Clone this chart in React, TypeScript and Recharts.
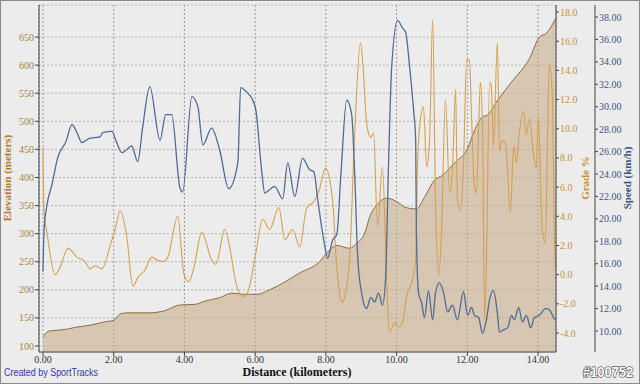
import { ComposedChart, Area, Line, XAxis, YAxis, CartesianGrid } from 'recharts'

const W = 640
const H = 384

// elevation profile (km, meters)
const elevDist = [0, 0.1, 0.2, 0.4, 0.68, 0.9, 1.33, 1.75, 2.01, 2.18, 2.37, 3.02, 3.45, 3.87, 4.29, 4.58, 5.0, 5.34, 5.7, 6.05, 6.41, 6.84, 7.26, 7.82, 8.02, 8.31, 8.67, 8.87, 9.1, 9.24, 9.44, 9.72, 10.08, 10.23, 10.56, 10.79, 11.07, 11.3, 11.64, 12.01, 12.2, 12.43, 12.57, 12.82, 13.25, 13.76, 14.04, 14.24, 14.49]
const elevM = [116, 124, 127, 128, 130, 133, 137, 143, 146, 157, 159, 159, 163, 173, 174, 180, 186, 194, 192, 192, 200, 214, 230, 250, 265, 279, 274, 283, 301, 330, 351, 363, 354, 347, 344, 365, 395, 404, 426, 452, 483, 508, 511, 534, 570, 612, 650, 657, 682]

// grade (km, %)
const gradeDist = [0, 0.03, 0.11, 0.34, 0.48, 0.71, 0.96, 1.19, 1.33, 1.47, 1.67, 1.89, 2.06, 2.18, 2.37, 2.54, 2.68, 2.88, 3.08, 3.22, 3.39, 3.53, 3.81, 3.98, 4.12, 4.27, 4.49, 4.77, 4.89, 5.14, 5.28, 5.45, 5.65, 5.79, 6.02, 6.21, 6.41, 6.67, 6.84, 7.06, 7.26, 7.46, 7.66, 7.8, 7.99, 8.19, 8.28, 8.36, 8.47, 8.56, 8.67, 8.81, 8.98, 9.07, 9.15, 9.27, 9.35, 9.46, 9.6, 9.72, 9.8, 9.94, 10.06, 10.17, 10.31, 10.42, 10.54, 10.59, 10.65, 10.76, 10.85, 10.93, 11.02, 11.1, 11.19, 11.27, 11.38, 11.5, 11.58, 11.67, 11.72, 11.81, 11.89, 11.98, 12.06, 12.12, 12.2, 12.26, 12.32, 12.37, 12.43, 12.49, 12.54, 12.63, 12.68, 12.74, 12.85, 12.91, 12.99, 13.08, 13.22, 13.31, 13.39, 13.47, 13.59, 13.67, 13.76, 13.87, 13.95, 14.01, 14.12, 14.21, 14.27, 14.32, 14.41, 14.46, 14.49]
const gradePct = [8.7, 4.2, 2.9, 0.0, 0.5, 1.8, 1.2, 0.9, 0.4, 0.6, 0.4, 1.9, 3.3, 4.4, 2.6, -0.8, -0.2, 0.3, 1.2, 1.0, 0.9, 1.2, 4.0, 0.1, -0.5, 0.5, 2.9, 1.0, 0.7, 3.1, 1.9, -0.5, -1.5, -1.2, 1.5, 3.8, 3.1, 4.6, 2.4, 3.1, 1.9, 4.6, 5.0, 5.7, 7.3, 5.1, 1.5, -0.8, -1.9, -1.2, 1.0, 9.4, 15.9, 13.6, 10.4, 9.4, 9.7, 3.3, 7.4, -0.4, -4.0, -3.3, -3.6, -3.2, -1.2, -0.6, 1.0, 7.4, 10.1, 11.5, 7.4, 9.0, 17.5, 5.1, 0.0, 2.9, 12.0, 5.6, 7.2, 12.7, 5.1, 4.4, 7.4, 14.7, 14.7, 10.8, 6.1, 5.6, 10.1, 13.2, 10.1, -3.1, 0.8, 13.2, 12.9, 8.8, 15.9, 8.5, 9.2, 9.0, 4.3, 8.8, 7.7, 9.7, 11.2, 9.6, 10.7, 8.3, 7.3, 10.8, 2.9, 2.2, 9.7, 14.4, 12.0, 2.9, 0.5]

// speed (km, km/h)
const speedDist = [0, 0.03, 0.11, 0.25, 0.42, 0.65, 0.82, 0.96, 1.1, 1.33, 1.61, 1.69, 1.95, 2.06, 2.23, 2.34, 2.51, 2.68, 2.82, 3.02, 3.31, 3.47, 3.64, 3.87, 3.95, 4.21, 4.38, 4.52, 4.77, 5.0, 5.25, 5.51, 5.59, 5.76, 5.93, 6.02, 6.19, 6.27, 6.41, 6.55, 6.78, 6.92, 7.12, 7.34, 7.54, 7.66, 7.77, 7.94, 8.05, 8.19, 8.31, 8.42, 8.59, 8.73, 8.81, 8.9, 9.01, 9.15, 9.27, 9.38, 9.49, 9.6, 9.69, 9.77, 9.86, 10.03, 10.17, 10.25, 10.37, 10.48, 10.54, 10.56, 10.62, 10.71, 10.79, 10.9, 11.02, 11.1, 11.21, 11.33, 11.44, 11.58, 11.72, 11.89, 12.01, 12.12, 12.2, 12.32, 12.43, 12.54, 12.63, 12.74, 12.85, 12.91, 13.02, 13.14, 13.25, 13.33, 13.45, 13.56, 13.67, 13.79, 13.9, 14.04, 14.21, 14.32, 14.44, 14.49]
const speedKmh = [15.3, 19.0, 21.2, 23.0, 25.5, 26.9, 28.4, 27.7, 26.8, 27.2, 27.3, 27.7, 27.8, 27.0, 25.9, 26.1, 26.5, 25.1, 28.2, 31.8, 27.0, 29.3, 29.3, 22.8, 22.4, 30.9, 30.0, 26.6, 28.1, 26.1, 22.7, 25.0, 31.7, 31.3, 30.6, 29.7, 24.1, 22.3, 22.6, 22.9, 21.8, 25.0, 22.0, 25.4, 24.4, 24.2, 21.7, 18.1, 16.5, 18.1, 18.6, 23.7, 30.6, 29.3, 24.4, 16.6, 13.4, 12.0, 13.0, 12.6, 13.4, 12.3, 14.8, 24.6, 33.5, 37.7, 37.0, 36.7, 33.5, 29.7, 27.0, 18.7, 13.4, 12.5, 11.2, 13.6, 11.0, 13.4, 14.3, 13.4, 11.7, 12.3, 11.0, 13.5, 11.4, 12.1, 11.4, 11.2, 9.8, 11.0, 12.8, 13.6, 11.6, 9.9, 10.1, 10.3, 11.4, 11.0, 12.1, 10.8, 11.4, 10.3, 11.2, 11.4, 12.0, 11.9, 11.2, 11.0]

const distTicks = [0, 2, 4, 6, 8, 10, 12, 14]
const elevTicks = [100, 150, 200, 250, 300, 350, 400, 450, 500, 550, 600, 650]
const gradeTicks = [-4, -2, 0, 2, 4, 6, 8, 10, 12, 14, 16, 18]
const speedTicks = [10, 12, 14, 16, 18, 20, 22, 24, 26, 28, 30, 32, 34, 36, 38]

const elevData = elevDist.map((d, i) => ({ d, elev: elevM[i] }))
const gradeData = gradeDist.map((d, i) => ({ d, grade: gradePct[i] }))
const speedData = speedDist.map((d, i) => ({ d, speed: speedKmh[i] }))

const SERIF = '"Liberation Serif", "Times New Roman", serif'
const SANS = '"Liberation Sans", Arial, sans-serif'
const BG = '#ececec'
const ELEV_TXT = '#a98246'
const GRADE_TXT = '#c6903a'
const SPEED_TXT = '#3b5583'

export default function App() {
  return (
    <div style={{ position: 'absolute', left: 0, top: 0, width: W, height: H, background: BG }}>
      <ComposedChart width={W} height={H} margin={{ top: 5, right: 0, bottom: 0, left: 0 }}>
        <CartesianGrid horizontal={true} vertical={false} yAxisId="elev"
          stroke="#b4b4b4" strokeDasharray="2 2" />
        <CartesianGrid horizontal={false} vertical={true} yAxisId="elev"
          stroke="#9a9a9a" strokeDasharray="2 2" />
        <XAxis
          dataKey="d" type="number" domain={[-0.113, 14.508]} allowDataOverflow
          ticks={distTicks} tickFormatter={(v: number) => v.toFixed(2)}
          height={32} tickSize={4} tickMargin={0}
          tick={{ fontSize: 10, fill: '#333', fontFamily: SERIF }}
          stroke="#444"
        />
        <YAxis
          yAxisId="elev" orientation="left" width={39}
          domain={[89.3, 707]} allowDataOverflow ticks={elevTicks}
          tickSize={4} tickMargin={1}
          tick={{ fontSize: 10, fill: ELEV_TXT, fontFamily: SERIF }}
          stroke="#444"
        />
        <YAxis
          yAxisId="grade" orientation="right" width={39}
          domain={[-5.3, 18.48]} allowDataOverflow ticks={gradeTicks}
          tickFormatter={(v: number) => v.toFixed(1)}
          tickSize={3} tickMargin={1}
          tick={{ fontSize: 10, fill: GRADE_TXT, fontFamily: SERIF }}
          stroke="#444"
        />
        <YAxis
          yAxisId="speed" orientation="right" width={45}
          domain={[8.13, 39.07]} allowDataOverflow ticks={speedTicks}
          tickFormatter={(v: number) => v.toFixed(2)}
          tickSize={3} tickMargin={1}
          tick={{ fontSize: 10, fill: SPEED_TXT, fontFamily: SERIF }}
          stroke="#444"
        />
        <Area
          yAxisId="elev" data={elevData} dataKey="elev" type="monotone"
          fill="#c4a884" fillOpacity={0.55} stroke="#8c6d3f" strokeWidth={1}
          isAnimationActive={false} dot={false} activeDot={false}
        />
        <Line
          yAxisId="grade" data={gradeData} dataKey="grade" type="monotone"
          stroke="#d6a04c" strokeWidth={1.1} dot={false} activeDot={false}
          isAnimationActive={false}
        />
        <Line
          yAxisId="speed" data={speedData} dataKey="speed" type="monotone"
          stroke="#4f6b96" strokeWidth={1.3} dot={false} activeDot={false}
          isAnimationActive={false}
        />
      </ComposedChart>

      {/* titles and credits */}
      <svg width={W} height={H} style={{ position: 'absolute', left: 0, top: 0, pointerEvents: 'none' }}>
        <text x={8} y={178} transform="rotate(-90 8 178)" textAnchor="middle" dominantBaseline="middle"
          fontFamily={SERIF} fontWeight="bold" fontSize={11} fill="#b27b2a">Elevation (meters)</text>
        <text x={586} y={178} transform="rotate(-90 586 178)" textAnchor="middle" dominantBaseline="middle"
          fontFamily={SERIF} fontWeight="bold" fontSize={11} fill={GRADE_TXT}>Grade %</text>
        <text x={628} y={178} transform="rotate(-90 628 178)" textAnchor="middle" dominantBaseline="middle"
          fontFamily={SERIF} fontWeight="bold" fontSize={11} fill={SPEED_TXT}>Speed (km/h)</text>
        <text x={297} y={376} textAnchor="middle" fontFamily={SERIF} fontWeight="bold" fontSize={12} fill="#111">
          Distance (kilometers)
        </text>
        <text x={4} y={376} fontFamily={SANS} fontSize={10} fill="#3434b0"
          textLength={94} lengthAdjust="spacingAndGlyphs">Created by SportTracks</text>
        <text transform="translate(583 377) scale(0.86 1)" fontFamily={SANS} fontWeight="bold" fontSize={15}
          fill="#fff" stroke="#222" strokeWidth={1.1} paintOrder="stroke">#100752</text>
        <rect x={0.5} y={0.5} width={W - 1} height={H - 1} fill="none" stroke="#8a8a8a" />
      </svg>
    </div>
  )
}
